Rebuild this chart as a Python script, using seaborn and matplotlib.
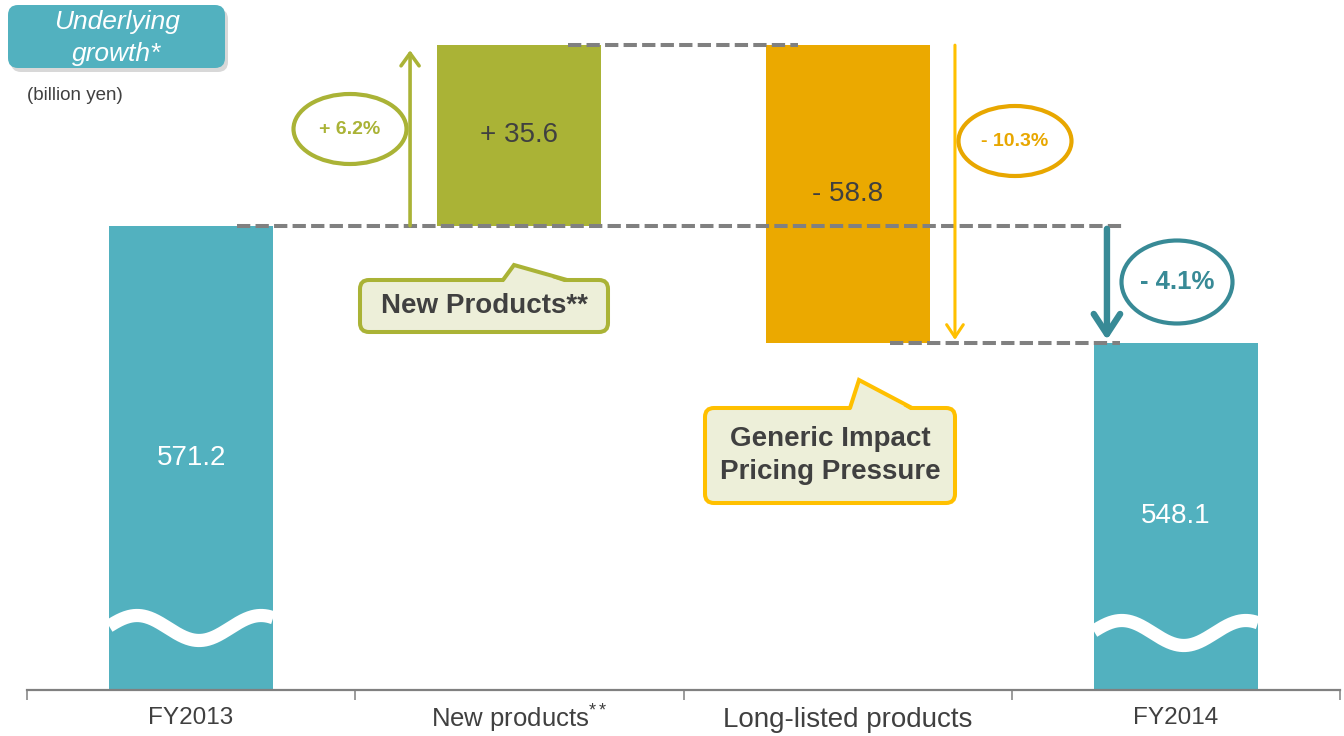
import numpy as np
import pandas as pd
import matplotlib
matplotlib.use("Agg")
import matplotlib.pyplot as plt
import seaborn as sns
from matplotlib.patches import Ellipse, FancyBboxPatch, Polygon
from matplotlib.transforms import IdentityTransform, blended_transform_factory
from matplotlib.lines import Line2D

# ---------------- data ----------------
categories = ["FY2013", "New products", "Long-listed products", "FY2014"]
fy2013 = 571.2
new_products = 35.6
long_listed = -58.8
fy2014 = 548.1
bar_labels = ["571.2", "+ 35.6", "- 58.8", "548.1"]
pct_labels = ["+ 6.2%", "- 10.3%", "- 4.1%"]
tick_labels = ["FY2013", "New products$^{**}$", "Long-listed products", "FY2014"]

# ---------------- style ----------------
TEAL = "#52B1BF"
OLIVE = "#AAB336"
ORANGE_BAR = "#EBA900"
YELLOW = "#FFC000"
ORANGE_TXT = "#E8A700"
TEAL_DARK = "#388A96"
FILL = "#EDEFD9"
GRAY = "#808080"
TXT = "#404040"

sns.set_theme(style="white")
plt.rcParams['font.family'] = ['Liberation Sans', 'DejaVu Sans']
plt.rcParams['mathtext.fontset'] = 'custom'
plt.rcParams['mathtext.rm'] = 'Liberation Sans'
plt.rcParams['mathtext.it'] = 'Liberation Sans:italic'
plt.rcParams['mathtext.bf'] = 'Liberation Sans:bold'

W, H = 1344, 736
fig = plt.figure(figsize=(W / 100, H / 100), dpi=100)
ax = fig.add_axes([27 / W, 46 / H, (1340 - 27) / W, 690 / H])
ID = IdentityTransform()

peak = fy2013 + new_products
heights = [fy2013, new_products, long_listed, fy2014]
bottoms = [0, fy2013, peak, 0]
colors = [TEAL, OLIVE, ORANGE_BAR, TEAL]
df = pd.DataFrame({"cat": categories, "h": heights})
sns.barplot(data=df, x="cat", y="h", bottom=bottoms, width=0.5, color=TEAL,
            saturation=1, errorbar=None, linewidth=0, ax=ax)
bars = list(ax.patches)
for p, c in zip(bars, colors):
    p.set_facecolor(c)
    p.set_edgecolor("none")

ax.set_xlim(-0.5, 3.5)
ax.set_ylim(479.7, 615.7)
ax.set_xlabel("")
ax.set_ylabel("")
ax.set_yticks([])
for s in ["left", "right", "top"]:
    ax.spines[s].set_visible(False)
ax.spines["bottom"].set_color(GRAY)
ax.spines["bottom"].set_linewidth(1.6)
ax.set_xticks(range(len(categories)))
ax.set_xticklabels(tick_labels, color=TXT)
ax.set_xticks([-0.5, 0.5, 1.5, 2.5, 3.5], minor=True)
ax.tick_params(axis="x", which="major", bottom=True, length=0, pad=12)
ax.tick_params(axis="x", which="minor", bottom=True, length=7, width=1.1, color=GRAY,
               direction="out")
for i, (lbl, fs) in enumerate(zip(ax.get_xticklabels(), [17.5, 18.5, 20, 17.5])):
    lbl.set_fontsize(fs)
    if i == 1:
        lbl.set_y(0.006)

# wave break marks on total bars
btr = blended_transform_factory(ax.transData, ID)
px_per_x = (1340 - 27) / 4.0
for idx, cy in [(0, 628), (3, 633)]:
    p = bars[idx]
    xs = np.linspace(p.get_x(), p.get_x() + p.get_width(), 200)
    u = (xs - p.get_x()) * px_per_x
    py = cy - 12.5 * np.cos(2 * np.pi * (u - 28) / 124.0)
    ln = Line2D(xs, H - py, transform=btr, color="white", lw=9.5, solid_capstyle="butt", zorder=3)
    ax.add_line(ln)
    ln.set_clip_path(p)

# bar value labels (middle of the visible part)
ylo = ax.get_ylim()[0]
mids = [(ylo + fy2013) / 2, fy2013 + new_products / 2, peak + long_listed / 2, (ylo + fy2014) / 2]
lcols = ["white", TXT, TXT, "white"]
for i, (m, t, c) in enumerate(zip(mids, bar_labels, lcols)):
    ax.text(i, m, t, ha="center", va="center", fontsize=20, color=c, zorder=4)

# dashed connectors
dash = dict(color=GRAY, lw=2.9, ls=(0, (3.3, 1.3)), zorder=2, solid_capstyle="butt")
ax.plot([0.140, 2.839], [fy2013, fy2013], **dash)
ax.plot([1.148, 1.849], [peak, peak], **dash)
ax.plot([2.129, 2.830], [fy2014, fy2014], **dash)

# arrows
def arrow(x, y0, y1, color, lw, hl, hw):
    ax.annotate("", xy=(x, y1), xytext=(x, y0),
                arrowprops=dict(arrowstyle=f"->,head_length={hl},head_width={hw}",
                                color=color, lw=lw, shrinkA=0, shrinkB=0,
                                mutation_scale=10), zorder=5)

arrow(0.667, fy2013, peak - 1.0, OLIVE, 2.6, 0.9, 0.65)
arrow(2.327, peak, fy2014 + 0.6, YELLOW, 2.2, 0.9, 0.6)
arrow(2.790, fy2013 - 0.6, fy2014 + 0.6, TEAL_DARK, 4.6, 1.45, 0.95)

# ellipses with percentages
for (cx, cy, w, h), t, c, fs in zip([(350, 129, 113, 70), (1015, 141, 113, 70), (1177, 282, 111, 83)],
                                    pct_labels, [OLIVE, ORANGE_TXT, TEAL_DARK], [14, 14, 18.5]):
    e = Ellipse((cx, H - cy), w, h, transform=ID, fill=False, edgecolor=c, lw=3)
    fig.add_artist(e)
    fig.text(cx, H - cy, t, transform=ID, ha="center", va="center", fontsize=fs,
             fontweight="bold", color=c)

# callout boxes
def callout(x0, y0, x1, y1, base_l, base_r, tip, edge, text, fs, ls=1.2):
    box = FancyBboxPatch((x0, H - y1), x1 - x0, y1 - y0, boxstyle="round,pad=0,rounding_size=9",
                         transform=ID, facecolor=FILL, edgecolor=edge, lw=2.9)
    fig.add_artist(box)
    poly = Polygon([(base_l, H - y0 - 3), (tip[0], H - tip[1]), (base_r, H - y0 - 3)],
                   closed=True, transform=ID, facecolor=FILL, edgecolor="none")
    fig.add_artist(poly)
    fig.add_artist(Line2D([base_l, tip[0], base_r], [H - y0, H - tip[1], H - y0],
                          transform=ID, color=edge, lw=2.9, solid_joinstyle="miter"))
    fig.text((x0 + x1) / 2, H - (y0 + y1) / 2, text, transform=ID, ha="center", va="center",
             fontsize=fs, fontweight="bold", color=TXT, linespacing=ls)

callout(360, 280, 608, 332, 503, 567, (514, 265), OLIVE, "New Products**", 20)
callout(705, 408, 955, 503, 850, 912, (859, 380), YELLOW, "Generic Impact\nPricing Pressure", 20, 1.34)

# badge
shadow = FancyBboxPatch((11, H - 72), 217, 63, boxstyle="round,pad=0,rounding_size=10",
                        transform=ID, facecolor="#C8C8C8", edgecolor="none", alpha=0.7)
fig.add_artist(shadow)
badge = FancyBboxPatch((8, H - 68), 217, 63, boxstyle="round,pad=0,rounding_size=10",
                       transform=ID, facecolor=TEAL, edgecolor="none")
fig.add_artist(badge)
fig.text(117, H - 38, "Underlying\ngrowth*", transform=ID, ha="center", va="center",
         fontsize=19, style="italic", color="white", linespacing=1.42)
fig.text(27, H - 95, "(billion yen)", transform=ID, ha="left", va="center",
         fontsize=13.5, color=TXT)

fig.savefig("out.png", dpi=100)
